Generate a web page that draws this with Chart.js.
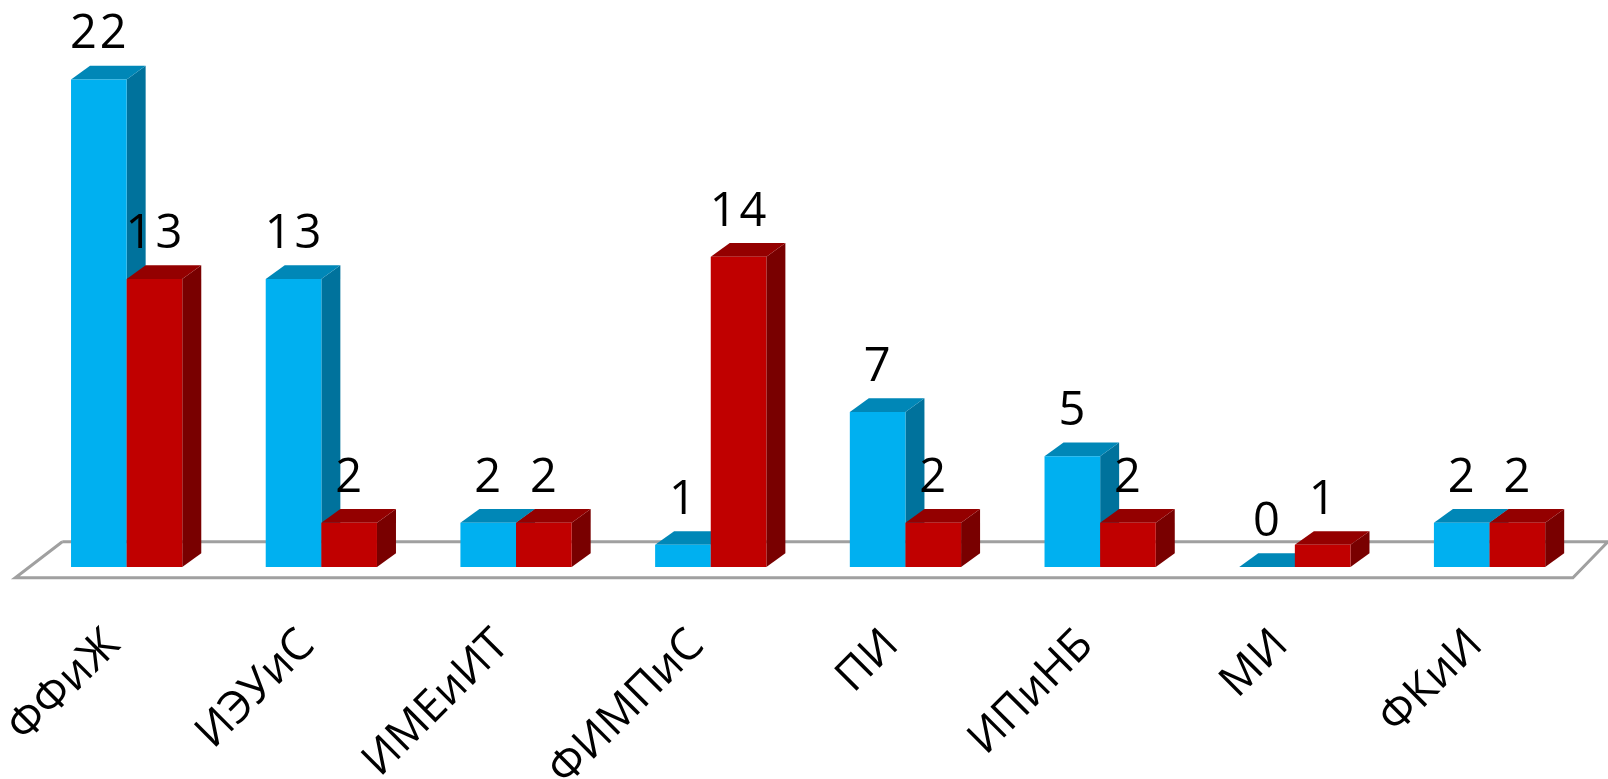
<!DOCTYPE html>
<html>
<head>
<meta charset="utf-8">
<style>
  html, body { margin: 0; background: #fff; }
  canvas { display: block; }
</style>
</head>
<body>
<canvas id="chart" width="1608" height="779"></canvas>
<script src="https://cdn.jsdelivr.net/npm/chart.js@4"></script>
<script>
const categories = ["ФФиЖ", "ИЭУиС", "ИМЕиИТ", "ФИМПиС", "ПИ", "ИПиНБ", "МИ", "ФКиИ"];
const blueValues = [22, 13, 2, 1, 7, 5, 0, 2];
const redValues = [13, 2, 2, 14, 2, 2, 1, 2];

const FONT = '"Open Sans", sans-serif';
const DEPTH_X = 19;
const DEPTH_Y = 13.7;

// colours of the box faces, by dataset index
const faces = [
    { top: "#0087b7", side: "#00729c" },
    { top: "#940000", side: "#790000" }
];

function poly(ctx, color, pts) {
    ctx.fillStyle = color;
    ctx.beginPath();
    pts.forEach((p, i) => i ? ctx.lineTo(p[0], p[1]) : ctx.moveTo(p[0], p[1]));
    ctx.closePath();
    ctx.fill();
}

// floor under the bars
function drawFloor(chart) {
    const { ctx, chartArea: a } = chart;
    const front = a.bottom + 10.7;
    const back = a.bottom - 25.3;
    ctx.save();
    ctx.strokeStyle = "#a0a0a0";
    ctx.lineWidth = 3;
    ctx.beginPath();
    ctx.moveTo(a.left + 33, back);
    ctx.lineTo(a.left - 14, front);
    ctx.lineTo(a.right - 14, front);
    ctx.lineTo(a.right + 21, back);
    ctx.lineTo(a.left + 33, back);
    ctx.stroke();
    ctx.restore();
}

// top and side of every box
function drawFaces(chart, index) {
    const { ctx } = chart;
    const face = faces[index];
    chart.getDatasetMeta(index).data.forEach(bar => {
        const l = bar.x - bar.width / 2;
        const r = bar.x + bar.width / 2;
        poly(ctx, face.side, [[r, bar.y], [r + DEPTH_X, bar.y - DEPTH_Y], [r + DEPTH_X, bar.base - DEPTH_Y], [r, bar.base]]);
        poly(ctx, face.top, [[l, bar.y], [l + DEPTH_X, bar.y - DEPTH_Y], [r + DEPTH_X, bar.y - DEPTH_Y], [r, bar.y]]);
    });
}

// red has to lie over blue, chart.js would do it the other way round
const boxPlugin = {
    id: "box",
    beforeDatasetsDraw(chart) {
        drawFloor(chart);
        chart.data.datasets.forEach((ds, i) => {
            drawFaces(chart, i);
            chart.getDatasetMeta(i).controller.draw();
        });
    },
    beforeDatasetDraw() {
        return false;
    }
};

// value above each bar
const valuePlugin = {
    id: "values",
    afterDatasetsDraw(chart) {
        const { ctx } = chart;
        ctx.save();
        ctx.font = "47px " + FONT;
        ctx.letterSpacing = "3px";
        ctx.fillStyle = "#000";
        ctx.textAlign = "center";
        ctx.textBaseline = "alphabetic";
        chart.data.datasets.forEach((ds, i) => {
            chart.getDatasetMeta(i).data.forEach((bar, j) => {
                ctx.fillText(ds.data[j], bar.x + 1, bar.y - 31);
            });
        });
        ctx.restore();
    }
};

new Chart(document.getElementById("chart"), {
    type: "bar",
    data: {
        labels: categories,
        datasets: [
            { data: blueValues, backgroundColor: "#00b0f0" },
            { data: redValues, backgroundColor: "#c00000" }
        ]
    },
    options: {
        responsive: false,
        animation: false,
        layout: { padding: { left: 29.3, right: 21.1, top: 13, bottom: 0 } },
        datasets: { bar: { categoryPercentage: 0.5714, barPercentage: 1 } },
        plugins: { legend: { display: false }, tooltip: { enabled: false } },
        scales: {
            y: { display: false, min: 0, max: 25 },
            x: {
                grid: { display: false },
                border: { display: false },
                afterFit(scale) {
                    scale.height = 212;
                    scale.paddingLeft = 0;
                    scale.paddingRight = 0;
                },
                ticks: {
                    autoSkip: false,
                    minRotation: 45,
                    maxRotation: 45,
                    padding: 44,
                    labelOffset: -14,
                    color: "#000",
                    font: { family: FONT, size: 44.5 }
                }
            }
        }
    },
    plugins: [boxPlugin, valuePlugin]
});
</script>
</body>
</html>
